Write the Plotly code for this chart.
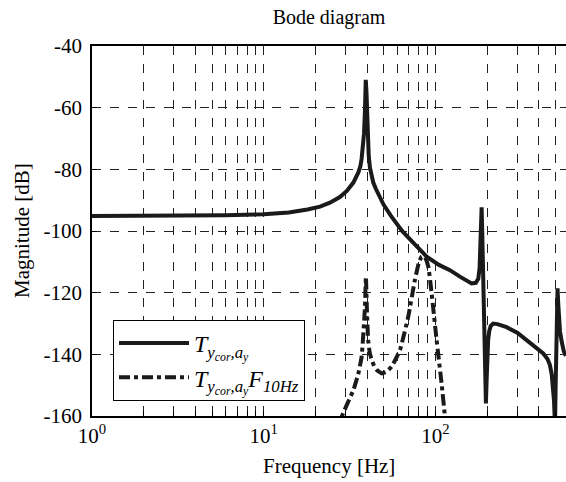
import plotly.graph_objects as go

# Solid curve T_{y_cor,a_y}
freq_T = [1, 3, 6, 10, 14, 18, 21.3, 24.3, 27.8, 30.5, 33.3, 35.6, 36.6, 37.2, 37.8, 38.4,
          38.9, 39.3, 39.7, 40.0, 40.3, 40.9, 41.6, 42.5, 43.5, 45, 46.5, 50, 55, 64, 75, 89,
          105, 121.6, 139, 152, 162.6, 172, 177.8, 181, 183, 184.5, 186, 187.5, 189, 191,
          193, 195, 197, 199, 201, 203, 206, 210, 217, 230, 260, 300, 340, 380, 425, 450,
          465, 476, 486, 491, 495, 498, 502, 506, 510, 515, 519, 524, 532, 545, 560, 576]
mag_T = [-95.1, -95.1, -94.9, -94.6, -94.0, -93.0, -92.1, -90.8, -89.0, -87.0, -84.3, -81.0,
         -79.0, -76.5, -73.0, -68.5, -61.0, -51.0, -55.0, -62.0, -69.0, -75.5, -79.5, -82.3,
         -84.3, -86.3, -88.0, -91.5, -95.0, -100.0, -104.0, -108.3, -111.0, -112.7, -114.8,
         -116.0, -117.0, -116.8, -115.5, -112.0, -106.0, -98.0, -92.3, -100.0, -112.0,
         -124.0, -137.0, -150.0, -155.9, -148.0, -140.0, -135.4, -132.5, -130.8, -130.0,
         -130.2, -131.2, -133.0, -135.4, -137.5, -139.7, -141.5, -143.5, -146.5, -151.0,
         -155.0, -160.0, -163.0, -150.0, -135.0, -123.0, -118.6, -123.0, -128.5, -132.5,
         -136.0, -139.0, -140.5]

# Dash-dot curve T_{y_cor,a_y} F_10Hz
freq_TF = [27, 28.5, 31, 33.3, 35.5, 37.2, 38.4, 38.9, 39.4, 39.9, 40.6, 41.5, 42.6, 44,
           45.5, 48.7, 52, 55.6, 62.2, 69.5, 76, 80, 83.2, 87, 91, 95.1, 101.7, 108.7,
           113.7, 116]
mag_TF = [-165, -160.2, -155.5, -151.6, -146.5, -140.8, -130.0, -124.6, -114.8, -125.0,
          -135.4, -139.5, -141.8, -143.8, -145.0, -146.2, -145.6, -144.0, -138.6, -127.8,
          -115.9, -110.5, -108.3, -108.5, -111.6, -120.2, -135.4, -149.4, -160.2, -166]

y_ticks = [-40, -60, -80, -100, -120, -140, -160]
x_ticks = [1, 10, 100]
x_ticktext = ["10<sup>0</sup>", "10<sup>1</sup>", "10<sup>2</sup>"]
minor_vals = [m * d for d in (1, 10, 100) for m in range(2, 10)]

FONT = "Liberation Serif, Times New Roman, serif"
L, R, T, B = 92, 0, 46, 66
W, H = 566, 482

fig = go.Figure()
fig.add_trace(go.Scatter(
    x=freq_T, y=mag_T, mode="lines",
    line=dict(color="#1a1a1a", width=4),
    name="<i>T<sub>y<sub>cor</sub>,a<sub>y</sub></sub></i>",
))
fig.add_trace(go.Scatter(
    x=freq_TF, y=mag_TF, mode="lines",
    line=dict(color="#1a1a1a", width=4, dash="11px,4px,4px,4px", shape="spline", smoothing=0.4),
    name="<i>T<sub>y<sub>cor</sub>,a<sub>y</sub></sub>F<sub>10Hz</sub></i>",
))

fig.update_layout(
    width=W, height=H,
    margin=dict(l=L, r=R, t=T, b=B, autoexpand=False),
    paper_bgcolor="white", plot_bgcolor="white",
    font=dict(family=FONT, size=21, color="black"),
    title=dict(text="Bode diagram", x=(L + (W - L) / 2) / W, xanchor="center",
               y=1 - 17 / H, yanchor="middle", font=dict(size=20)),
    showlegend=True,
    legend=dict(x=(113 - L) / (W - L), y=(H - B - 320) / (H - T - B), xanchor="left", yanchor="top",
                bordercolor="black", borderwidth=1, bgcolor="white",
                itemwidth=70, font=dict(size=24), tracegroupgap=0),
    annotations=[
        dict(text="Frequency [Hz]", xref="paper", yref="paper",
             x=0.5, y=-(466 - (H - B)) / (H - T - B), xanchor="center", yanchor="middle",
             showarrow=False, font=dict(size=21)),
        dict(text="Magnitude [dB]", xref="paper", yref="paper", textangle=-90,
             x=-(L - 22) / (W - L), y=0.5, xanchor="center", yanchor="middle",
             showarrow=False, font=dict(size=21)),
    ],
)
fig.update_xaxes(
    type="log", range=[0, 2.761], automargin=False,
    tickvals=x_ticks, ticktext=x_ticktext,
    ticks="inside", ticklen=5, tickcolor="black",
    showline=True, linecolor="black", linewidth=1.5, mirror=True,
    showgrid=True, gridcolor="#222", griddash="dash", gridwidth=1,
    minor=dict(tickvals=minor_vals, showgrid=True, gridcolor="#222", griddash="dash",
               gridwidth=1, ticks="inside", ticklen=5, tickcolor="black"),
    tickfont=dict(size=21), zeroline=False,
)
fig.update_yaxes(
    range=[-160, -40], automargin=False,
    tickvals=y_ticks, ticktext=[str(v) for v in y_ticks],
    ticks="inside", ticklen=5, tickcolor="black",
    showline=True, linecolor="black", linewidth=1.5,
    showgrid=True, gridcolor="#222", griddash="dash", gridwidth=1,
    ticklabelstandoff=4,
    tickfont=dict(size=21), zeroline=False,
)

fig.write_html("out.html", config={"displayModeBar": False},
               post_script="document.body.style.margin='0';document.body.style.overflow='hidden';")
